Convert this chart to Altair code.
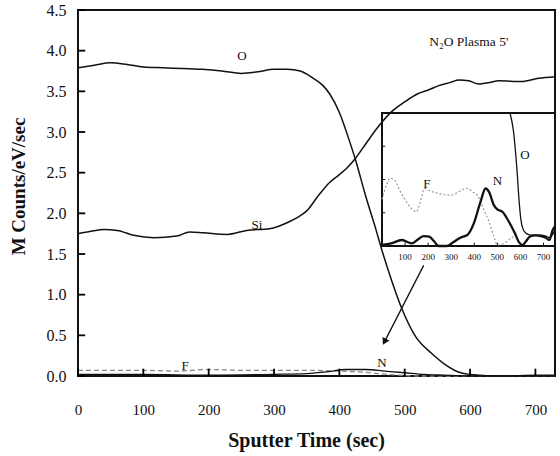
import altair as alt
import pandas as pd

# ---------------- main panel data ----------------
o_t = [0, 25, 50, 75, 100, 130, 160, 190, 220, 250, 275, 300, 320, 340, 360, 375, 385, 400, 415, 425, 440, 456, 465, 481, 496, 517, 541, 562, 582, 600, 650, 700, 730]
o_v = [3.79, 3.82, 3.85, 3.83, 3.80, 3.79, 3.78, 3.77, 3.75, 3.72, 3.74, 3.77, 3.77, 3.75, 3.66, 3.57, 3.47, 3.24, 2.90, 2.65, 2.22, 1.80, 1.55, 1.15, 0.82, 0.48, 0.28, 0.14, 0.05, 0.02, 0.0, 0.0, 0.0]

si_t = [0, 20, 40, 60, 85, 116, 151, 171, 192, 228, 258, 293, 324, 338, 350, 368, 385, 399, 412, 425, 440, 460, 480, 500, 520, 537, 552, 570, 583, 598, 613, 630, 644, 679, 705, 730]
si_v = [1.75, 1.78, 1.80, 1.79, 1.73, 1.70, 1.72, 1.77, 1.76, 1.74, 1.79, 1.81, 1.90, 1.96, 2.03, 2.22, 2.38, 2.47, 2.56, 2.68, 2.85, 3.07, 3.25, 3.37, 3.47, 3.52, 3.57, 3.61, 3.64, 3.63, 3.59, 3.61, 3.63, 3.62, 3.66, 3.68]

f_t = [0, 50, 100, 150, 200, 250, 300, 350, 400, 430, 460, 490, 520, 600, 730]
f_v = [0.07, 0.07, 0.07, 0.06, 0.08, 0.07, 0.07, 0.07, 0.06, 0.05, 0.03, 0.01, 0.0, 0.0, 0.0]

n_t = [0, 100, 200, 300, 350, 380, 410, 440, 470, 500, 530, 560, 600, 650, 700, 730]
n_v = [0.02, 0.02, 0.01, 0.02, 0.03, 0.05, 0.08, 0.08, 0.06, 0.04, 0.02, 0.01, 0.0, 0.0, 0.01, 0.01]

x_ticks = [0, 100, 200, 300, 400, 500, 600, 700]
y_ticks = [0.0, 0.5, 1.0, 1.5, 2.0, 2.5, 3.0, 3.5, 4.0, 4.5]

# curve labels (main panel, data coordinates)
lab_text = ["O", "Si", "F", "N"]
lab_t = [251, 274, 164, 465]
lab_v = [3.93, 1.86, 0.12, 0.16]

# arrow from inset to N bump
arrow_t = [529, 469]
arrow_v = [1.36, 0.42]

# ---------------- inset data ----------------
in_f_t = [0, 20, 35, 55, 75, 95, 125, 150, 165, 185, 210, 235, 265, 300, 330, 350, 370, 395, 413, 430, 442, 464, 485, 500, 529, 558, 575]
in_f_v = [1.40, 1.85, 2.04, 1.98, 1.70, 1.45, 1.15, 1.03, 1.30, 1.73, 1.65, 1.60, 1.55, 1.53, 1.62, 1.70, 1.73, 1.62, 1.53, 1.30, 1.08, 0.73, 0.28, 0.03, 0.08, 0.23, 0.30]

in_n_t = [0, 40, 86, 110, 130, 160, 180, 205, 225, 245, 282, 310, 340, 370, 398, 427, 449, 464, 485, 500, 522, 540, 558, 575, 595, 609, 625, 640, 665, 689, 710, 725, 740, 750]
in_n_v = [0.03, 0.08, 0.18, 0.12, 0.08, 0.22, 0.30, 0.28, 0.15, 0.0, 0.0, 0.12, 0.25, 0.33, 0.68, 1.33, 1.73, 1.63, 1.23, 1.10, 1.03, 0.85, 0.63, 0.40, 0.10, 0.03, 0.15, 0.28, 0.32, 0.30, 0.25, 0.18, 0.48, 0.60]

in_o_t = [555, 570, 585, 595, 602, 612, 625, 645, 670, 690, 710, 725, 740, 750]
in_o_v = [4.0, 3.45, 2.30, 1.30, 0.80, 0.50, 0.38, 0.33, 0.33, 0.33, 0.30, 0.25, 0.35, 0.50]

in_x_ticks = [100, 200, 300, 400, 500, 600, 700]
in_y_ticks = [1, 2, 3]
in_lab_text = ["F", "N", "O"]
in_lab_t = [195, 500, 620]
in_lab_v = [1.85, 1.95, 2.75]

FONT = "Liberation Serif"

# ---------------- main panel ----------------
mx = alt.Scale(domain=[0, 730], nice=False, zero=False)
my = alt.Scale(domain=[0, 4.5], nice=False)

X = alt.X("t:Q", scale=mx, axis=alt.Axis(
    values=x_ticks, title="Sputter Time (sec)", domain=False, ticks=False,
    grid=False, labelPadding=26, labelFontSize=15, labelFlush=False,
    labelFont=FONT, titleFont=FONT, titleFontSize=20, titleBaseline="alphabetic",
    titleY=70, titleX=228))
Y = alt.Y("v:Q", scale=my, axis=alt.Axis(
    values=y_ticks, format=".1f", title="M Counts/eV/sec", domain=False, ticks=False,
    grid=False, labelPadding=12, labelFontSize=16, labelFlush=False,
    labelFont=FONT, titleFont=FONT, titleFontSize=19, titleAngle=270, titleBaseline="middle",
    titleAlign="center", titleX=-60, titleY=176))


def df(t, v):
    return pd.DataFrame({"t": t, "v": v})


o_line = alt.Chart(df(o_t, o_v)).mark_line(color="#111", strokeWidth=1.5, interpolate="monotone").encode(x=X, y=Y)
si_line = alt.Chart(df(si_t, si_v)).mark_line(color="#111", strokeWidth=1.5, interpolate="monotone").encode(x=X, y=Y)
f_line = alt.Chart(df(f_t, f_v)).mark_line(color="#888", strokeWidth=1.3, strokeDash=[5, 3], interpolate="monotone").encode(x=X, y=Y)
n_line = alt.Chart(df(n_t, n_v)).mark_line(color="#111", strokeWidth=1.3, interpolate="monotone").encode(x=X, y=Y)

# inward tick marks of the main frame
ytick_df = pd.DataFrame({"t": [0] * len(y_ticks), "t2": [11] * len(y_ticks), "v": y_ticks})
ytick = alt.Chart(ytick_df).mark_rule(color="#000", strokeWidth=1.8).encode(x=X, x2="t2:Q", y=Y)
xtick_df = pd.DataFrame({"t": x_ticks, "v": [0] * len(x_ticks), "v2": [0.09] * len(x_ticks)})
xtick = alt.Chart(xtick_df).mark_rule(color="#000", strokeWidth=1.8).encode(x=X, y=Y, y2="v2:Q")

labels = alt.Chart(pd.DataFrame({"t": lab_t, "v": lab_v, "s": lab_text})).mark_text(
    font=FONT, fontSize=13, color="#111").encode(x=X, y=Y, text="s:N")

plasma = alt.Chart(pd.DataFrame({"t": [598], "v": [4.11], "s": ["N\u2082O Plasma 5'"]})).mark_text(
    font=FONT, fontSize=13.5, color="#111").encode(x=X, y=Y, text="s:N")

arrow_df = pd.DataFrame({"t": [arrow_t[0]], "v": [arrow_v[0]], "t2": [arrow_t[1]], "v2": [arrow_v[1]]})
arrow = alt.Chart(arrow_df).mark_rule(color="#111", strokeWidth=1.3).encode(x=X, y=Y, x2="t2:Q", y2="v2:Q")
head = alt.Chart(pd.DataFrame({"t": [arrow_t[1]], "v": [arrow_v[1]]})).mark_point(
    shape="triangle-up", filled=True, color="#111", size=60, angle=207, opacity=1).encode(x=X, y=Y)

main = alt.layer(f_line, n_line, o_line, si_line, ytick, xtick, labels, plasma, arrow, head)

# ---------------- inset ----------------
ix = alt.Scale(domain=[0, 750], range=[304, 477], nice=False, zero=False)
iy = alt.Scale(domain=[0, 4], range=[236, 103], nice=False)
IX = alt.X("t:Q", scale=ix, axis=None)
IY = alt.Y("v:Q", scale=iy, axis=None)

frame = alt.Chart(pd.DataFrame({"t": [0], "v": [0], "t2": [750], "v2": [4]})).mark_rect(
    fill="white", fillOpacity=0, stroke="#111", strokeWidth=2).encode(x=IX, y=IY, x2="t2:Q", y2="v2:Q")

ytk = alt.Chart(pd.DataFrame({"t": [0] * len(in_y_ticks), "t2": [14] * len(in_y_ticks), "v": in_y_ticks})).mark_rule(
    color="#111", strokeWidth=1).encode(x=IX, x2="t2:Q", y=IY)
xtk = alt.Chart(pd.DataFrame({"t": in_x_ticks, "v": [0] * len(in_x_ticks), "v2": [0.1] * len(in_x_ticks)})).mark_rule(
    color="#111", strokeWidth=1).encode(x=IX, y=IY, y2="v2:Q")
xtl = alt.Chart(pd.DataFrame({"t": in_x_ticks, "v": [0] * len(in_x_ticks), "s": [str(k) for k in in_x_ticks]})).mark_text(
    font=FONT, fontSize=9, color="#111", baseline="top", dy=7).encode(x=IX, y=IY, text="s:N")

in_f = alt.Chart(df(in_f_t, in_f_v)).mark_line(color="#999", strokeWidth=1.2, strokeDash=[2, 2], interpolate="monotone").encode(x=IX, y=IY)
in_n = alt.Chart(df(in_n_t, in_n_v)).mark_line(color="#111", strokeWidth=2.3, interpolate="monotone").encode(x=IX, y=IY)
in_o = alt.Chart(df(in_o_t, in_o_v)).mark_line(color="#111", strokeWidth=1.3, interpolate="monotone").encode(x=IX, y=IY)
in_lab = alt.Chart(pd.DataFrame({"t": in_lab_t, "v": in_lab_v, "s": in_lab_text})).mark_text(
    font=FONT, fontSize=13, color="#111").encode(x=IX, y=IY, text="s:N")

inset = alt.layer(frame, ytk, xtk, xtl, in_f, in_n, in_o, in_lab)

chart = alt.layer(main, inset).resolve_scale(x="independent", y="independent").properties(
    width=477, height=366,
    autosize=alt.AutoSizeParams(type="none"),
    padding={"left": 78, "top": 10, "right": 5, "bottom": 80},
    background="white",
).configure(font=FONT).configure_axis(
    labelFont=FONT, titleFont=FONT, labelColor="#111", titleColor="#111",
    titleFontWeight="bold", grid=False
).configure_view(stroke="#111", strokeWidth=2)

chart.save("out.html", embed_options={"renderer": "svg", "actions": False})
